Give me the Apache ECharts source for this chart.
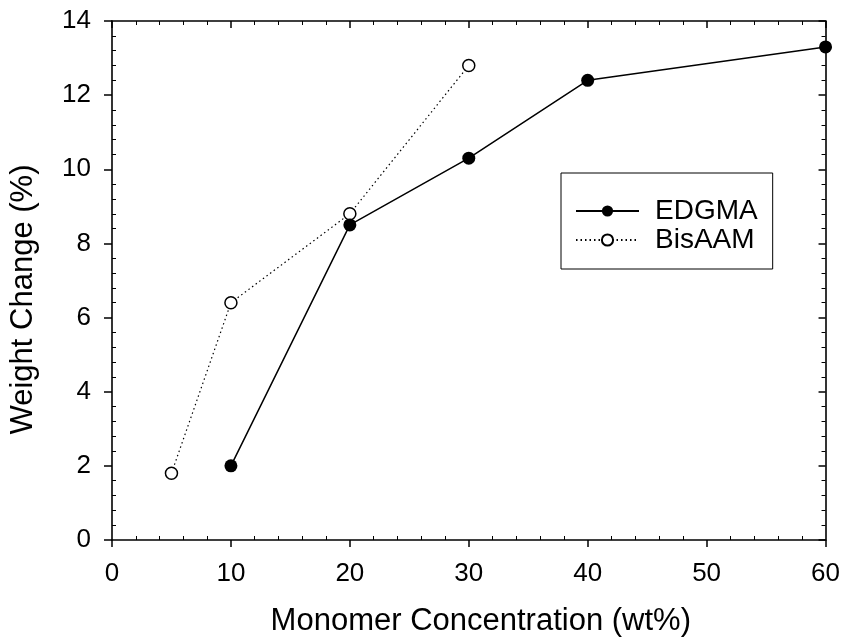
<!DOCTYPE html>
<html>
<head>
<meta charset="utf-8">
<script src="https://cdn.jsdelivr.net/npm/echarts@6/dist/echarts.min.js"></script>
<style>
  html, body { margin: 0; padding: 0; background: #fff; }
  #chart { width: 843px; height: 642px; }
</style>
</head>
<body>
<div id="chart"></div>
<script>
// values
const edgmaConc = [10, 20, 30, 40, 60]
const edgmaWeight = [2.0, 8.5, 10.3, 12.4, 13.3]
const bisConc = [5, 10, 20, 30]
const bisWeight = [1.8, 6.4, 8.8, 12.8]

const font = 'Liberation Sans, Arial, Helvetica, sans-serif'
const black = '#000'

// an axis that only draws the inward minor ticks
const minorAxis = (pos, min, max, interval, length) => ({
  type: 'value',
  position: pos,
  min: min,
  max: max,
  interval: interval,
  axisLine: { show: false },
  axisLabel: { show: false },
  splitLine: { show: false },
  axisTick: { show: false, inside: true },
  minorTick: { show: true, splitNumber: 5, length: length, lineStyle: { color: black, width: 1 } }
})

// mirrored axis on top / right, all ticks inside
const mirrorAxis = (pos, min, max, interval) => ({
  type: 'value',
  position: pos,
  min: min,
  max: max,
  interval: interval,
  axisLine: { show: true, onZero: false, lineStyle: { color: black, width: 1.6 } },
  axisLabel: { show: false },
  splitLine: { show: false },
  axisTick: { show: true, inside: true, length: 7, lineStyle: { color: black, width: 1.5 } },
  minorTick: { show: true, splitNumber: 5, length: 4, lineStyle: { color: black, width: 1 } }
})

const option = {
  animation: false,
  backgroundColor: '#fff',
  grid: { left: 112, right: 17, top: 21, bottom: 101 },
  legend: {
    left: 561,
    top: 173,
    orient: 'vertical',
    padding: [24, 15, 15, 14],
    itemGap: 1,
    itemWidth: 63,
    itemHeight: 14,
    borderColor: black,
    borderWidth: 1,
    textStyle: { color: black, fontSize: 28, fontFamily: font, padding: [0, 0, 0, 11] },
    data: ['EDGMA', 'BisAAM']
  },
  xAxis: [
    {
      type: 'value',
      position: 'bottom',
      min: 0,
      max: 60,
      interval: 10,
      name: 'Monomer Concentration (wt%)',
      nameLocation: 'middle',
      nameGap: 66,
      nameTextStyle: { color: black, fontSize: 31, fontFamily: font, padding: [0, 0, 0, 24] },
      axisLine: { show: true, onZero: false, lineStyle: { color: black, width: 1.6 } },
      axisTick: { show: true, inside: false, length: 7, lineStyle: { color: black, width: 1.5 } },
      axisLabel: { color: black, fontSize: 26, fontFamily: font, margin: 21 },
      splitLine: { show: false }
    },
    minorAxis('bottom', 0, 60, 10, 4),
    mirrorAxis('top', 0, 60, 10)
  ],
  yAxis: [
    {
      type: 'value',
      position: 'left',
      min: 0,
      max: 14,
      interval: 2,
      name: 'Weight Change (%)',
      nameLocation: 'middle',
      nameGap: 73,
      nameTextStyle: { color: black, fontSize: 31, fontFamily: font, padding: [0, 38, 0, 0] },
      axisLine: { show: true, onZero: false, lineStyle: { color: black, width: 1.6 } },
      axisTick: { show: true, inside: false, length: 8, lineStyle: { color: black, width: 1.5 } },
      axisLabel: { color: black, fontSize: 26, fontFamily: font, margin: 21 },
      splitLine: { show: false }
    },
    minorAxis('left', 0, 14, 2, 4),
    mirrorAxis('right', 0, 14, 2)
  ],
  series: [
    {
      name: 'EDGMA',
      type: 'line',
      data: edgmaConc.map((x, i) => [x, edgmaWeight[i]]),
      symbol: 'circle',
      symbolSize: 13,
      lineStyle: { color: black, width: 1.5, type: 'solid' },
      itemStyle: { color: black, borderColor: black, borderWidth: 0 },
      z: 3
    },
    {
      name: 'BisAAM',
      type: 'line',
      data: bisConc.map((x, i) => [x, bisWeight[i]]),
      symbol: 'circle',
      symbolSize: 12,
      lineStyle: { color: black, width: 1.2, type: [1.5, 3] },
      itemStyle: { color: '#fff', borderColor: black, borderWidth: 1.5 },
      z: 2
    }
  ]
}

const myChart = echarts.init(document.getElementById('chart'))
myChart.setOption(option)
</script>
</body>
</html>
